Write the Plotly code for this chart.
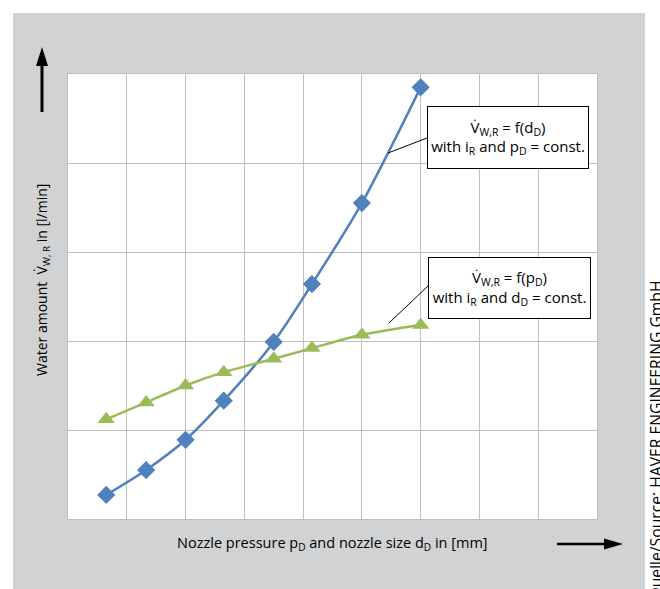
import plotly.graph_objects as go

# ---- data (grid units) ----
x_vals = [0.65, 1.33, 2.0, 2.65, 3.5, 4.15, 5.0, 6.0]
v_of_d = [0.27, 0.55, 0.89, 1.33, 1.99, 2.64, 3.55, 4.85]   # blue diamonds
v_of_p = [1.12, 1.31, 1.50, 1.65, 1.80, 1.92, 2.07, 2.18]   # green triangles

x_title = "Nozzle pressure p<sub>D</sub> and nozzle size d<sub>D</sub> in [mm]"
y_title = "Water amount  V\u0307<sub>W, R</sub> in [l/min]"
label_d = "V\u0307<sub>W,R</sub> = f(d<sub>D</sub>)<br>with i<sub>R</sub> and p<sub>D</sub> = const."
label_p = "V\u0307<sub>W,R</sub> = f(p<sub>D</sub>)<br>with i<sub>R</sub> and d<sub>D</sub> = const."
source = "Quelle/Source: HAVER ENGINEERING GmbH"

W, H = 660, 589
L, R, T, B = 68, 597, 74, 519


def px(x):
    return (x - L) / (R - L)


def py(y):
    return (B - y) / (B - T)


BLUE = "#4F81BD"
GREEN = "#9BBB59"
GRAY = "#d1d2d4"
FONT = "Open Sans"

fig = go.Figure()
fig.add_trace(go.Scatter(x=x_vals, y=v_of_d, mode="lines+markers",
                         line=dict(color=BLUE, width=2.5, shape="spline", smoothing=0.8),
                         marker=dict(symbol="diamond", size=14, color=BLUE),
                         showlegend=False))
fig.add_trace(go.Scatter(x=x_vals, y=v_of_p, mode="lines+markers",
                         line=dict(color=GREEN, width=2.5, shape="spline", smoothing=0.8),
                         marker=dict(symbol="triangle-up", size=15, color=GREEN),
                         showlegend=False))

shapes = []
# white margins around gray panel
for x0, y0, x1, y1 in [(0, 0, W, 13), (0, 0, 13, H), (645, 0, W, H)]:
    shapes.append(dict(type="rect", xref="paper", yref="paper",
                       x0=px(x0), x1=px(x1), y0=py(y0), y1=py(y1),
                       fillcolor="white", line=dict(width=0), layer="below"))
# leader lines
shapes.append(dict(type="line", xref="paper", yref="paper",
                   x0=px(427), y0=py(138), x1=px(388), y1=py(153),
                   line=dict(color="black", width=1)))
shapes.append(dict(type="line", xref="paper", yref="paper",
                   x0=px(429), y0=py(285), x1=px(389), y1=py(323),
                   line=dict(color="black", width=1)))
# up arrow
shapes.append(dict(type="line", xref="paper", yref="paper",
                   x0=px(42), y0=py(112), x1=px(42), y1=py(62),
                   line=dict(color="black", width=3)))
shapes.append(dict(type="path", xref="paper", yref="paper",
                   path=f"M {px(42)},{py(47)} L {px(36)},{py(66)} L {px(48)},{py(66)} Z",
                   fillcolor="black", line=dict(width=0)))
# right arrow
shapes.append(dict(type="line", xref="paper", yref="paper",
                   x0=px(557), y0=py(544), x1=px(608), y1=py(544),
                   line=dict(color="black", width=2.5)))
shapes.append(dict(type="path", xref="paper", yref="paper",
                   path=f"M {px(623)},{py(544)} L {px(604)},{py(538.5)} L {px(604)},{py(549.5)} Z",
                   fillcolor="black", line=dict(width=0)))

box_font = dict(family=FONT, size=15, color="black")
annotations = [
    dict(xref="paper", yref="paper", x=px(508), y=py(137.5), text=label_d,
         xanchor="center", yanchor="middle",
         showarrow=False, bgcolor="white", bordercolor="black", borderwidth=1,
         borderpad=0, width=160, height=61, align="center", font=box_font),
    dict(xref="paper", yref="paper", x=px(509.5), y=py(288), text=label_p,
         xanchor="center", yanchor="middle",
         showarrow=False, bgcolor="white", bordercolor="black", borderwidth=1,
         borderpad=0, width=161, height=60, align="center", font=box_font),
    dict(xref="paper", yref="paper", x=px(332), y=py(543), text=x_title,
         xanchor="center", yanchor="middle",
         showarrow=False, font=dict(family=FONT, size=14.5, color="black")),
    dict(xref="paper", yref="paper", x=px(42), y=py(280), text=y_title,
         xanchor="center", yanchor="middle",
         textangle=-90, showarrow=False, font=dict(family=FONT, size=14, color="black")),
    dict(xref="paper", yref="paper", x=px(655), y=py(279), text=source,
         textangle=-90, showarrow=False, xanchor="center", yanchor="top",
         font=dict(family=FONT, size=15.7, color="black")),
]

axis_common = dict(showticklabels=False, ticks="", showgrid=True, gridcolor="#c0c0c0",
                   gridwidth=1, zeroline=False, showline=True, linecolor="#bfbfbf",
                   linewidth=1, mirror=True, dtick=1, fixedrange=True)
fig.update_layout(
    width=W, height=H,
    margin=dict(l=L, r=W - R, t=T, b=H - B, pad=0),
    paper_bgcolor=GRAY, plot_bgcolor="white",
    xaxis=dict(range=[0, 9], **axis_common),
    yaxis=dict(range=[0, 5], **axis_common),
    shapes=shapes, annotations=annotations,
    font=dict(family=FONT, size=13, color="black"),
)

fig.write_html("out.html", config={"displayModeBar": False},
               post_script="document.body.style.margin='0';document.body.style.overflow='hidden';")
